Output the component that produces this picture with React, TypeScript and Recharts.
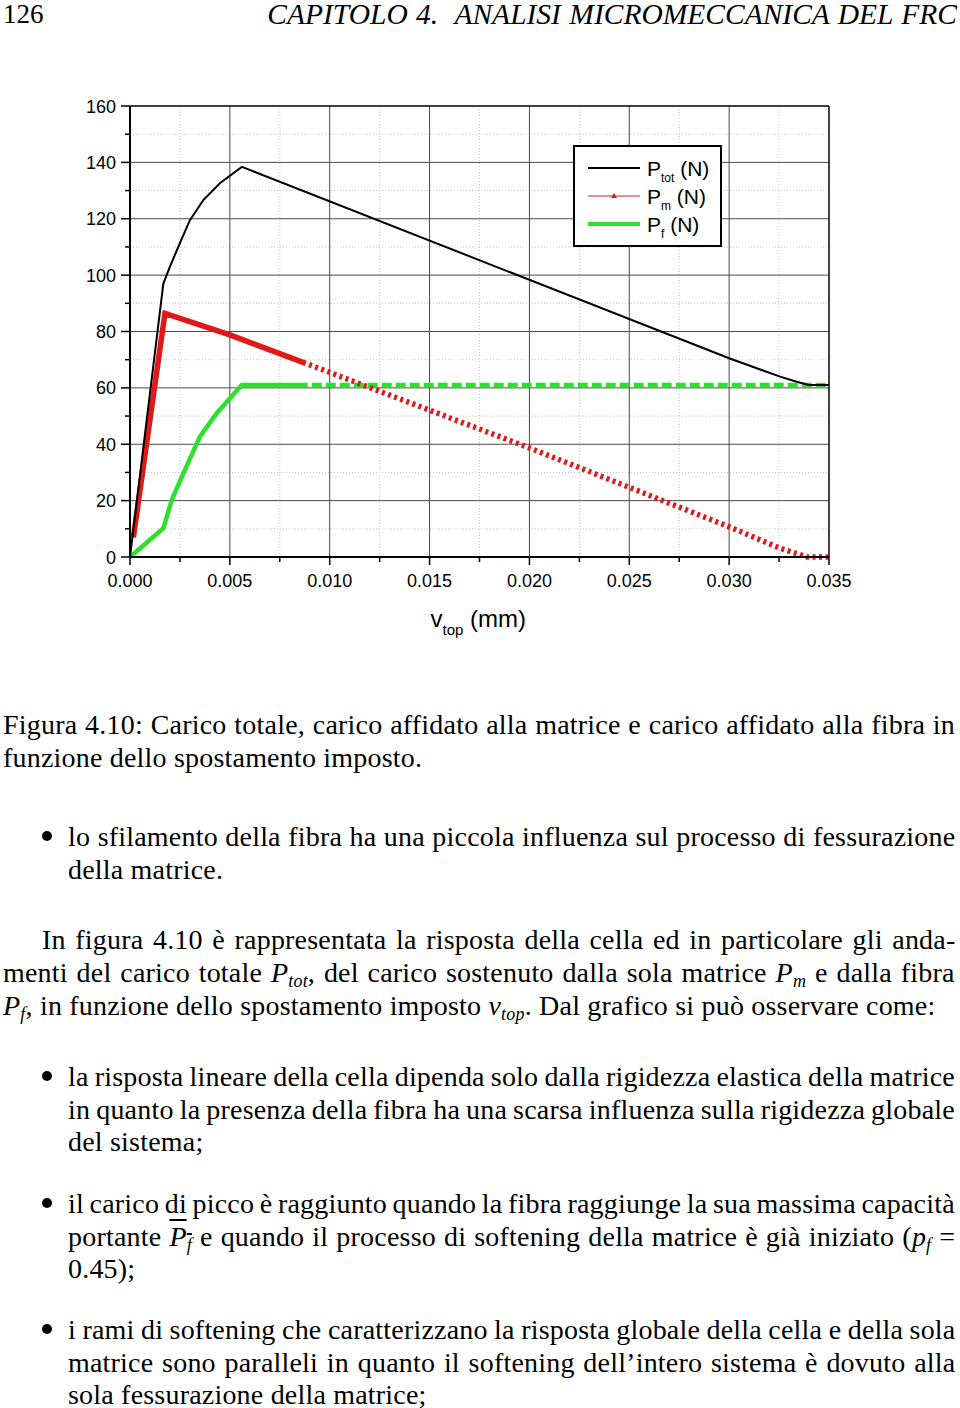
import React, { useLayoutEffect, useRef, useState } from "react";
import { LineChart, Line, XAxis, YAxis, ReferenceLine, Legend } from "recharts";

// total load P_tot (N) vs imposed displacement v_top (mm)
const ptotV = [0, 0.00167, 0.002, 0.0025, 0.003, 0.00367, 0.0045, 0.0056, 0.03, 0.03255, 0.03338, 0.034, 0.035];
const ptotP = [0, 97, 103, 111.4, 119.5, 126.6, 132.6, 138.4, 70.5, 64, 62.2, 61, 61];

// matrix load P_m (N)
const pmV = [0.00017, 0.00175, 0.005, 0.0088, 0.02, 0.03, 0.03255, 0.0334, 0.0339, 0.035];
const pmP = [7, 86.4, 78.8, 68.7, 38.7, 10.7, 3.1, 1.2, 0, 0];

// fibre load P_f (N)
const pfV = [0, 0.00167, 0.00209, 0.00267, 0.0035, 0.00434, 0.0056, 0.035];
const pfP = [0, 10.2, 20.2, 29.7, 42.7, 51, 61, 61];

const xMajor = [0, 0.005, 0.01, 0.015, 0.02, 0.025, 0.03, 0.035];
const xMinor = [0.0025, 0.0075, 0.0125, 0.0175, 0.0225, 0.0275, 0.0325];
const yMajor = [0, 20, 40, 60, 80, 100, 120, 140, 160];
const yMinor = [10, 30, 50, 70, 90, 110, 130, 150];

const X_MAX = 0.035;
const Y_MAX = 160;
const PLOT_LEFT = 130;
const PLOT_TOP = 106;
const PLOT_W = 699;
const PLOT_H = 451;
const PLOT_BOTTOM = PLOT_TOP + PLOT_H;
const DENSE_UNTIL = 0.0088; // where the markers stop overlapping into a solid line

const toRows = (vs: number[], ps: number[]) => vs.map((v, i) => ({ v, p: ps[i] }));

// pixel length of the polyline up to a given v, used to switch from solid to marker-like dashes
function denseLength(vs: number[], ps: number[], upTo: number) {
  const sx = PLOT_W / X_MAX;
  const sy = PLOT_H / Y_MAX;
  let len = 0;
  for (let i = 1; i < vs.length; i++) {
    if (vs[i - 1] >= upTo) break;
    let v1 = vs[i];
    let p1 = ps[i];
    if (v1 > upTo) {
      const t = (upTo - vs[i - 1]) / (vs[i] - vs[i - 1]);
      v1 = upTo;
      p1 = ps[i - 1] + t * (ps[i] - ps[i - 1]);
    }
    len += Math.hypot((v1 - vs[i - 1]) * sx, (p1 - ps[i - 1]) * sy);
  }
  return len;
}

function dashes(solid: number, gap: number, dash: number) {
  const parts: number[] = [solid];
  for (let i = 0; i < 120; i++) parts.push(gap, dash);
  parts.push(2000);
  return parts.join(" ");
}

const serif = "'Liberation Serif', 'Times New Roman', serif";
const sans = "'Liberation Sans', Arial, sans-serif";

function XTick({ payload }: any) {
  const v = payload.value;
  const major = xMajor.some((m) => Math.abs(m - v) < 1e-9);
  const x = PLOT_LEFT + (v / X_MAX) * PLOT_W;
  return (
    <g>
      <line x1={x} x2={x} y1={PLOT_BOTTOM} y2={PLOT_BOTTOM + (major ? 8 : 5)} stroke="#000" strokeWidth={1.5} />
      {major && (
        <text x={x} y={PLOT_BOTTOM + 30} textAnchor="middle" fontSize={18} fontFamily={sans} fill="#000">
          {v.toFixed(3)}
        </text>
      )}
    </g>
  );
}

function YTick({ payload }: any) {
  const v = payload.value;
  const major = v % 20 === 0;
  const y = PLOT_BOTTOM - (v / Y_MAX) * PLOT_H;
  return (
    <g>
      <line x1={PLOT_LEFT - (major ? 9 : 5)} x2={PLOT_LEFT} y1={y} y2={y} stroke="#000" strokeWidth={1.5} />
      {major && (
        <text x={PLOT_LEFT - 14} y={y + 6.5} textAnchor="end" fontSize={18} fontFamily={sans} fill="#000">
          {v}
        </text>
      )}
    </g>
  );
}

function AxisTitle({ viewBox }: any) {
  const cx = viewBox.x + viewBox.width / 2;
  return (
    <text x={cx - 49} y={627} fontSize={24} fontFamily={sans} fill="#000">
      v
      <tspan fontSize={15} dy={8}>top</tspan>
      <tspan fontSize={24} dy={-8}> (mm)</tspan>
    </text>
  );
}

function LegendBox() {
  const row = (sub: string, line: React.ReactNode, y: number) => (
    <g key={sub}>
      {line}
      <text x={74} y={y + 8} fontSize={21} fontFamily={sans} fill="#000">
        P<tspan fontSize={12} dy={6}>{sub}</tspan>
        <tspan fontSize={21} dy={-6}> (N)</tspan>
      </text>
    </g>
  );
  return (
    <svg width={149} height={102} style={{ display: "block" }}>
      <rect x={1} y={1} width={147} height={100} fill="#fff" stroke="#000" strokeWidth={2} />
      {row("tot", <line x1={15} x2={67} y1={23} y2={23} stroke="#000" strokeWidth={2} />, 23)}
      {row(
        "m",
        <g>
          <line x1={15} x2={67} y1={51} y2={51} stroke="#e21b1b" strokeWidth={1.2} />
          <path d="M38,53 L41,48 L44,53 Z" fill="#e21b1b" />
        </g>,
        51
      )}
      {row("f", <line x1={15} x2={67} y1={79} y2={79} stroke="#2de02d" strokeWidth={4} />, 79)}
    </svg>
  );
}

const FS = 28;

const lineBox = (top: number): React.CSSProperties => ({
  position: "absolute",
  top: top - 16.5,
  height: 33,
  lineHeight: "33px",
  fontFamily: serif,
  fontSize: FS,
  color: "#000",
  whiteSpace: "nowrap",
});

// one typeset line: spaces are stretched (or squeezed) so the line fills its measure
function TextLine({ y, left = 3, right = 5, justify = true, children }: any) {
  const ref = useRef<HTMLSpanElement>(null);
  const [fit, setFit] = useState({ ws: 0, sx: 1 });
  const avail = 960 - left - right;

  useLayoutEffect(() => {
    const el = ref.current;
    if (!el) return;
    const n = ((el.textContent || "").match(/ /g) || []).length;
    const cur = parseFloat(el.style.wordSpacing) || 0;
    const natural = el.offsetWidth - cur * n;
    let ws = 0;
    let sx = 1;
    if (justify && n) ws = (avail - natural) / n;
    else if (natural > avail) ws = (avail - natural) / Math.max(n, 1);
    if (ws < -2.5) {
      ws = -2.5;
      sx = avail / (natural - 2.5 * n);
    }
    setFit({ ws, sx });
  }, [avail, justify]);

  return (
    <div style={{ ...lineBox(y), left, width: avail, letterSpacing: 0.2 }}>
      <span
        ref={ref}
        style={{
          display: "inline-block",
          wordSpacing: fit.ws,
          transform: `scaleX(${fit.sx})`,
          transformOrigin: "left center",
        }}
      >
        {children}
      </span>
    </div>
  );
}

function Bullet({ y }: { y: number }) {
  return (
    <div
      style={{
        position: "absolute",
        left: 42,
        top: y - 5,
        width: 10,
        height: 10,
        borderRadius: 5,
        background: "#000",
      }}
    />
  );
}

const M = ({ children, sub }: { children: React.ReactNode; sub?: string }) => (
  <span style={{ fontStyle: "italic" }}>
    {children}
    {sub && <sub style={{ fontSize: 18, verticalAlign: "-5px", lineHeight: 0 }}>{sub}</sub>}
  </span>
);

export default function App() {
  const pmDense = denseLength(pmV, pmP, DENSE_UNTIL);
  const pfDense = denseLength(pfV, pfP, DENSE_UNTIL + 0.0001);

  return (
    <div style={{ position: "absolute", left: 0, top: 0, width: 960, height: 1408, background: "#fff" }}>
      <div style={{ ...lineBox(14), left: 3, fontSize: 27 }}>126</div>
      <div style={{ ...lineBox(14), right: 3, fontSize: 29.5, fontStyle: "italic", wordSpacing: 1 }}>
        CAPITOLO 4.&nbsp; ANALISI MICROMECCANICA DEL FRC
      </div>

      <div style={{ position: "absolute", left: 0, top: 0 }}>
        <LineChart width={960} height={680} margin={{ top: PLOT_TOP, right: 131, bottom: 80, left: 0 }}>
          <XAxis
            type="number"
            dataKey="v"
            domain={[0, X_MAX]}
            ticks={[...xMajor, ...xMinor].sort((a, b) => a - b)}
            interval={0}
            height={43}
            axisLine={{ stroke: "#000", strokeWidth: 2 }}
            tickLine={false}
            tick={<XTick />}
            label={<AxisTitle />}
          />
          <YAxis
            type="number"
            domain={[0, Y_MAX]}
            ticks={[...yMajor, ...yMinor].sort((a, b) => a - b)}
            interval={0}
            width={130}
            axisLine={{ stroke: "#000", strokeWidth: 2 }}
            tickLine={false}
            tick={<YTick />}
          />
          {xMinor.map((v) => (
            <ReferenceLine key={"xm" + v} x={v} stroke="#c4c4c4" strokeDasharray="1 2" />
          ))}
          {yMinor.map((v) => (
            <ReferenceLine key={"ym" + v} y={v} stroke="#c4c4c4" strokeDasharray="1 2" />
          ))}
          {xMajor.slice(1, -1).map((v) => (
            <ReferenceLine key={"xM" + v} x={v} stroke="#4a4a4a" strokeWidth={1} />
          ))}
          {yMajor.slice(1, -1).map((v) => (
            <ReferenceLine key={"yM" + v} y={v} stroke="#4a4a4a" strokeWidth={1} />
          ))}
          <ReferenceLine x={X_MAX} stroke="#000" strokeWidth={1.5} />
          <ReferenceLine y={Y_MAX} stroke="#000" strokeWidth={1.5} />
          <Line
            data={toRows(pfV, pfP)}
            dataKey="p"
            type="linear"
            stroke="#2de02d"
            strokeWidth={4.5}
            strokeDasharray={dashes(pfDense, 4, 10)}
            dot={false}
            isAnimationActive={false}
          />
          <Line
            data={toRows(pmV, pmP)}
            dataKey="p"
            type="linear"
            stroke="#e01818"
            strokeWidth={5.5}
            strokeDasharray={dashes(pmDense, 3.5, 3)}
            dot={false}
            isAnimationActive={false}
          />
          <Line
            data={toRows(ptotV, ptotP)}
            dataKey="p"
            type="linear"
            stroke="#000"
            strokeWidth={2}
            dot={false}
            isAnimationActive={false}
          />
          <Legend
            layout="horizontal"
            verticalAlign="middle"
            align="center"
            content={<LegendBox />}
            wrapperStyle={{ position: "absolute", left: 573, top: 145, width: 149, height: 102 }}
          />
        </LineChart>
      </div>

      <TextLine y={724}>
        Figura 4.10: Carico totale, carico affidato alla matrice e carico affidato alla fibra in
      </TextLine>
      <TextLine y={757} justify={false}>
        funzione dello spostamento imposto.
      </TextLine>

      <Bullet y={836} />
      <TextLine y={836} left={68}>
        lo sfilamento della fibra ha una piccola influenza sul processo di fessurazione
      </TextLine>
      <TextLine y={869} left={68} justify={false}>
        della matrice.
      </TextLine>

      <TextLine y={939} left={42}>
        In figura 4.10 è rappresentata la risposta della cella ed in particolare gli anda-
      </TextLine>
      <TextLine y={972}>
        menti del carico totale <M sub="tot">P</M>, del carico sostenuto dalla sola matrice <M sub="m">P</M> e dalla fibra
      </TextLine>
      <TextLine y={1005} justify={false}>
        <M sub="f">P</M>, in funzione dello spostamento imposto <M sub="top">v</M>. Dal grafico si può osservare come:
      </TextLine>

      <Bullet y={1076} />
      <TextLine y={1076} left={68}>
        la risposta lineare della cella dipenda solo dalla rigidezza elastica della matrice
      </TextLine>
      <TextLine y={1109} left={68}>
        in quanto la presenza della fibra ha una scarsa influenza sulla rigidezza globale
      </TextLine>
      <TextLine y={1141} left={68} justify={false}>
        del sistema;
      </TextLine>

      <Bullet y={1203} />
      <TextLine y={1203} left={68}>
        il carico di picco è raggiunto quando la fibra raggiunge la sua massima capacità
      </TextLine>
      <TextLine y={1236} left={68}>
        portante{" "}
        <span style={{ textDecoration: "overline" }}>
          <M sub="f">P</M>
        </span>{" "}
        e quando il processo di softening della matrice è già iniziato (<M sub="f">p</M> =
      </TextLine>
      <TextLine y={1268} left={68} justify={false}>
        0.45);
      </TextLine>

      <Bullet y={1329} />
      <TextLine y={1329} left={68}>
        i rami di softening che caratterizzano la risposta globale della cella e della sola
      </TextLine>
      <TextLine y={1362} left={68}>
        matrice sono paralleli in quanto il softening dell’intero sistema è dovuto alla
      </TextLine>
      <TextLine y={1394} left={68} justify={false}>
        sola fessurazione della matrice;
      </TextLine>
    </div>
  );
}
